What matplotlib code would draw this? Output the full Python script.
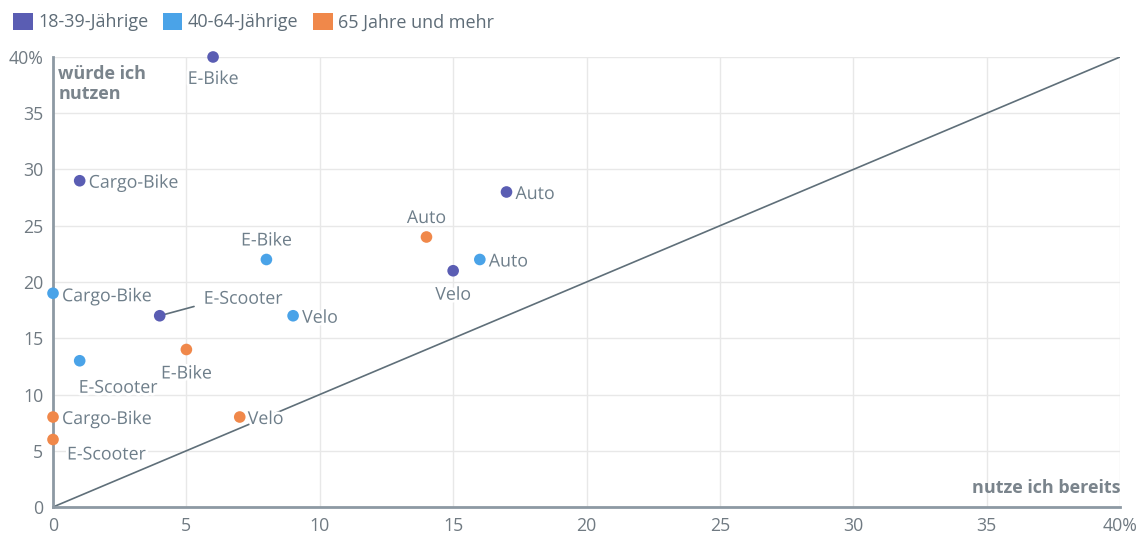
import matplotlib.pyplot as plt
import matplotlib.patheffects as pe
from matplotlib.patches import Patch

plt.rcParams['font.family'] = ['Open Sans', 'DejaVu Sans']

# Daten: x = nutze ich bereits, y = würde ich nutzen (in %)
gruppen = ['18-39-Jährige', '40-64-Jährige', '65 Jahre und mehr']
farben = ['#5a5db3', '#4aa3e8', '#f0884a']

fahrzeuge_jung = ['E-Bike', 'Cargo-Bike', 'Auto', 'Velo', 'E-Scooter']
x_jung = [6, 1, 17, 15, 4]
y_jung = [40, 29, 28, 21, 17]

fahrzeuge_mittel = ['E-Bike', 'Cargo-Bike', 'Auto', 'Velo', 'E-Scooter']
x_mittel = [8, 0, 16, 9, 1]
y_mittel = [22, 19, 22, 17, 13]

fahrzeuge_alt = ['Auto', 'E-Bike', 'Velo', 'Cargo-Bike', 'E-Scooter']
x_alt = [14, 5, 7, 0, 0]
y_alt = [24, 14, 8, 8, 6]

ticks = [0, 5, 10, 15, 20, 25, 30, 35, 40]
tick_labels = ['0', '5', '10', '15', '20', '25', '30', '35', '40%']

# Beschriftungs-Versatz in Pixeln (dx, dy, ha)
versatz_jung = [(0, -22, 'center'), (9, -2, 'left'), (9, -2, 'left'), (0, -24, 'center'), (44, 17, 'left')]
versatz_mittel = [(0, 19, 'center'), (9, -3, 'left'), (9, -2, 'left'), (9, -2, 'left'), (-1, -27, 'left')]
versatz_alt = [(0, 19, 'center'), (0, -24, 'center'), (8, -2, 'left'), (9, -2, 'left'), (14, -15, 'left')]

grau = '#6e7e8a'
achse = '#8d99a3'

fig = plt.figure(figsize=(11.4, 5.35), dpi=100)
ax = fig.add_axes([0.0465, 0.0523, 0.936, 0.8412])

ax.plot([0, 40], [0, 40], color='#5f6f79', lw=1.2, zorder=1)

halo = [pe.withStroke(linewidth=4, foreground='white')]
daten = [(fahrzeuge_jung, x_jung, y_jung, versatz_jung),
         (fahrzeuge_mittel, x_mittel, y_mittel, versatz_mittel),
         (fahrzeuge_alt, x_alt, y_alt, versatz_alt)]

for (namen, xs, ys, vs), farbe in zip(daten, farben):
    ax.scatter(xs, ys, s=70, color=farbe, zorder=4, clip_on=False, edgecolors='none')
    for n, x, y, (dx, dy, ha) in zip(namen, xs, ys, vs):
        t = ax.annotate(n, (x, y), xytext=(dx, dy), textcoords='offset pixels',
                        ha=ha, va='center', fontsize=12.8, color=grau, zorder=3)
        t.set_path_effects(halo)

# Verbindungslinie E-Scooter (18-39)
ax.annotate('', (4, 17), xytext=(37, 10), textcoords='offset pixels',
            arrowprops=dict(arrowstyle='-', color='#5f6f79', lw=1.2), zorder=3)

ax.set_xlim(0, 40)
ax.set_ylim(0, 40)
ax.set_xticks(ticks)
ax.set_xticklabels(tick_labels)
ax.set_yticks(ticks)
ax.set_yticklabels(tick_labels)
ax.tick_params(length=0, labelsize=12.8, labelcolor='#707a82', pad=7)
ax.grid(True, color='#e8e8e8', lw=1)
ax.set_axisbelow(True)
for s in ['top', 'right']:
    ax.spines[s].set_visible(False)
for s in ['left', 'bottom']:
    ax.spines[s].set_color(achse)
    ax.spines[s].set_linewidth(2)

ax.text(0.2, 39.3, 'würde ich\nnutzen', fontsize=13, fontweight='bold',
        color='#7a848c', va='top', ha='left', linespacing=1.15)
ax.text(40, 0.9, 'nutze ich bereits', fontsize=13, fontweight='bold',
        color='#7a848c', va='bottom', ha='right')

handles = [Patch(facecolor=f, label=g) for g, f in zip(gruppen, farben)]
fig.legend(handles=handles, loc='upper left', bbox_to_anchor=(0.0, 1.0), ncol=3,
           frameon=False, fontsize=13, labelcolor='#5f6d78', handlelength=1.1,
           handleheight=1.1, handletextpad=0.3, columnspacing=0.8, borderaxespad=0.3)

fig.savefig('out.png', dpi=100)
